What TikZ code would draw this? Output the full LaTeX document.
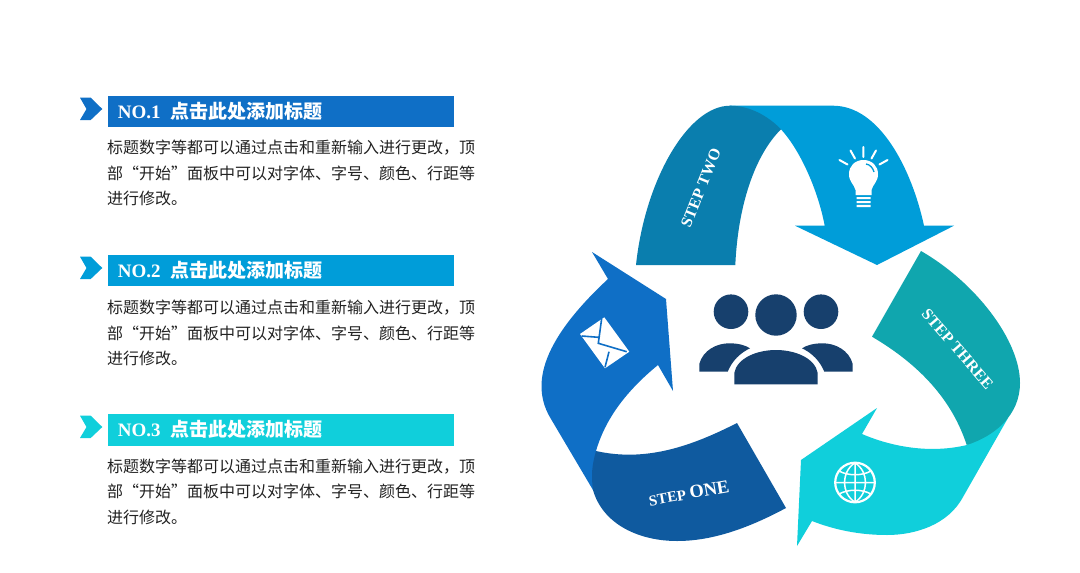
\documentclass[tikz,border=0pt]{standalone}
\usepackage{fontspec}
\setmainfont{Liberation Serif}
\newfontfamily\cjk{Noto Sans CJK SC}
\definecolor{cblue}{HTML}{0F6FC6}
\definecolor{cdblue}{HTML}{0F5A9F}
\definecolor{csky}{HTML}{009DD9}
\definecolor{cdsky}{HTML}{0A7EAE}
\definecolor{ccyan}{HTML}{10CFDB}
\definecolor{cteal}{HTML}{10A6AE}
\definecolor{cnavy}{HTML}{17406D}
\definecolor{cbody}{HTML}{222222}
\tikzset{
  titlebar/.style={anchor=west,minimum width=346pt,minimum height=31.6pt,inner sep=0pt,outer sep=0pt,text=white,align=left,text width=336.3pt},
  bodytext/.style={anchor=north west,inner sep=0pt,align=left,text=cbody,font=\cjk\fontsize{16}{25.5}\selectfont},
  steplabel/.style={text=white,inner sep=0pt,font=\bfseries},
  iconline/.style={white,line width=2pt,line cap=round},
}
\newcommand{\headline}[1]{{\fontsize{19}{22}\selectfont\bfseries\hspace{5pt}NO.#1\hspace{10pt}\cjk 点击此处添加标题}}
\newcommand{\bodylines}{标题数字等都可以通过点击和重新输入进行更改，顶\\部“开始”面板中可以对字体、字号、颜色、行距等\\进行修改。}
\begin{document}
\begin{tikzpicture}[x=1pt,y=-1pt]
\useasboundingbox (0,0) rectangle (1080,573);
\fill[white] (0,0) rectangle (1080,573);
% left rows
\fill[cblue] (80,97.7)--(90.7,97.7)--(102.3,109)--(90.7,120)--(80,120)--(86.5,109)--cycle;
\node[titlebar,fill=cblue] (bar1) at (108,111.5) {\headline{1}};
\node[bodytext] (body1) at (107,140) {\bodylines};
\fill[csky] (80,256.7)--(90.7,256.7)--(102.3,268)--(90.7,279)--(80,279)--(86.5,268)--cycle;
\node[titlebar,fill=csky] (bar2) at (108,270.3) {\headline{2}};
\node[bodytext] (body2) at (107,300) {\bodylines};
\fill[ccyan] (80,415.7)--(90.7,415.7)--(102.3,427)--(90.7,438)--(80,438)--(86.5,427)--cycle;
\node[titlebar,fill=ccyan] (bar3) at (108,429.7) {\headline{3}};
\node[bodytext] (body3) at (107,458.5) {\bodylines};
% arrows
\fill[csky] (730,105.7)--(833,105.7)
  .. controls (880,105.7) and (912,170) .. (924,225.7)
  --(954,225.7)--(877,265)--(795,225.7)--(824.7,225.7)
  .. controls (818,190) and (800,150) .. (781,129.3)--cycle;
\fill[cdsky] (636,265) .. controls (645,180) and (688,105.7) .. (730,105.7)
  .. controls (750,105.7) and (768,116) .. (781,129.3)
  .. controls (755,155) and (738,205) .. (735.3,265)--cycle;
\fill[ccyan] (1008,418)--(963,497)
  .. controls (948,525) and (915,535) .. (887,535)
  .. controls (860,535) and (835,530) .. (812,521)
  --(797,546)--(801,460)--(877,408)--(862,434)
  .. controls (885,444) and (925,455) .. (967,445)--cycle;
\fill[cteal] (921,251) .. controls (975,282) and (1020,340) .. (1020,383)
  .. controls (1020,415) and (995,436) .. (966.7,445)
  .. controls (952,400) and (920,365) .. (872,336.7)--cycle;
\fill[cblue] (593,490)--(551,419)
  .. controls (532,388) and (537,345) .. (608,279)
  --(592,252)--(666,299)--(673,391)--(658,365)
  .. controls (625,392) and (605,420) .. (596,451)--cycle;
\fill[cdblue] (737,423)--(786,508)
  .. controls (745,530) and (710,541) .. (677,541)
  .. controls (640,541) and (603,525) .. (593,490)
  .. controls (591,475) and (592,465) .. (596,451)
  .. controls (645,462) and (690,447) .. (737,423)--cycle;
% step labels
\node[steplabel,rotate=68] (steptwo) at (701,188) {\fontsize{16}{18}\selectfont STEP TWO};
\node[steplabel,rotate=-49] (stepthree) at (957.5,349) {\fontsize{16}{18}\selectfont STEP THREE};
\node[steplabel,rotate=10] (stepone) at (689,493) {\fontsize{15}{18}\selectfont STEP \fontsize{18.5}{18}\selectfont ONE};
% people
\fill[cnavy] (731,311.7) circle (17.3) (776,315) circle (20.7) (821,311.7) circle (17.3);
\fill[cnavy] (734.3,384.3)--(734.3,373) .. controls (737,358) and (757,350) .. (776,350) .. controls (795,350) and (815,358) .. (817.7,373)--(817.7,384.3)--cycle;
\fill[cnavy] (699.3,371.7)--(699.3,364) .. controls (703,350) and (717,343.3) .. (729,343.3) .. controls (738,343.3) and (745,345) .. (750,348.3) .. controls (740,353) and (732,361) .. (727.7,371.7)--cycle;
\fill[cnavy] (852.7,371.7)--(852.7,364) .. controls (849,350) and (835,343.3) .. (823,343.3) .. controls (814,343.3) and (807,345) .. (802,348.3) .. controls (812,353) and (820,361) .. (824.3,371.7)--cycle;
% bulb
\fill[white] (855.5,195)--(855.5,190) .. controls (854,184) and (849,182) .. (849,174) .. controls (849,166) and (855,160) .. (863.5,160) .. controls (872,160) and (878,166) .. (878,174) .. controls (878,182) and (873,184) .. (871.5,190)--(871.5,195)--cycle;
\draw[csky,line width=1.3pt] (866,164) .. controls (870,164.5) and (873,168) .. (874,172);
\fill[white] (856.5,197)rectangle(870.5,199.2) (856.5,201)rectangle(870.5,203.2) (856.5,204.8)rectangle(870.5,207);
\draw[iconline] (863.3,147)--(863.3,157) (850.5,150.5)--(855,158.5) (876,150.5)--(871.5,158.5) (839.5,160)--(847.5,164.5) (887.5,160)--(879.5,164.5);
% envelope
\fill[white] (580,334)--(604.3,317.3)--(629.3,351.7)--(605,368.3)--cycle;
\draw[cblue,line width=1.6pt] (601.7,318.3)--(598.3,343.3)--(626.7,351.7) (581.7,336)--(598.3,337.3) (605,367.3)--(609,351.7);
% globe
\draw[white,line width=2.2pt] (855,482.5) circle (19.8);
\draw[white,line width=1.5pt] (855,462.7)--(855,502.3) (835.2,482.5)--(874.8,482.5)
  (855,462.7) .. controls (841,472) and (841,493) .. (855,502.3)
  (855,462.7) .. controls (869,472) and (869,493) .. (855,502.3)
  (839,471) .. controls (848,476) and (862,476) .. (871,471)
  (839,494) .. controls (848,489) and (862,489) .. (871,494);
\end{tikzpicture}
\end{document}
